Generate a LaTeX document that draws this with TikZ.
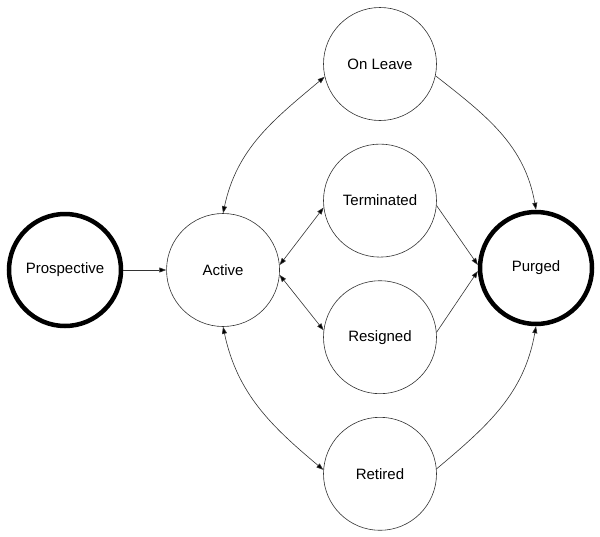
\documentclass[tikz,border=0pt]{standalone}
\usepackage{fontspec}
\setmainfont{Liberation Sans}
\usetikzlibrary{positioning,arrows.meta}

\begin{document}
\begin{tikzpicture}[node distance=23pt,
	>={Triangle[length=7pt,width=5pt]},
	state/.style={
		% The shape:
		circle,
		% The size:
		minimum size=113pt,
		% The border:
		semithick,
		draw=black!80,
		% Font
		font=\fontsize{15}{18}\selectfont
		},
	endstate/.style={
		state,
		% a fat border for first and last state
		minimum size=112pt,
		line width=4.5pt,
		draw=black
		}]

	\useasboundingbox (0,0) rectangle (600pt,-536pt);

	\node (prospective) [endstate] at (65pt,-270pt) {Prospective};
	\node (active) [state,right=43pt of prospective] {Active};
	\node (onleave) [state] at (380pt,-64pt) {On Leave};
	\node (terminated) [state,below=of onleave] {Terminated};
	\node (resigned) [state,below=of terminated] {Resigned};
	\node (retired) [state,below=of resigned] {Retired};
	\node (purged) [endstate] at (536pt,-268pt) {Purged};

	\path[semithick,draw=black!80] (prospective) edge[->] (active);
	\path[semithick,draw=black!80] (active.north) edge[<->,out=78,in=220] (onleave.193);
	\path[semithick,draw=black!80] (active.5) edge[<->] (terminated.187);
	\path[semithick,draw=black!80] (active.-5) edge[<->] (resigned.173);
	\path[semithick,draw=black!80] (active.south) edge[<->,out=-78,in=140] (retired.176);
	\path[semithick,draw=black!80] (onleave.-12) edge[->,out=-38,in=100] (purged.north);
	\path[semithick,draw=black!80] (terminated.-5) edge[->] (purged.177);
	\path[semithick,draw=black!80] (resigned.5) edge[->] (purged.183);
	\path[semithick,draw=black!80] (retired.5) edge[->,out=40,in=-100] (purged.south);

\end{tikzpicture}
\end{document}
